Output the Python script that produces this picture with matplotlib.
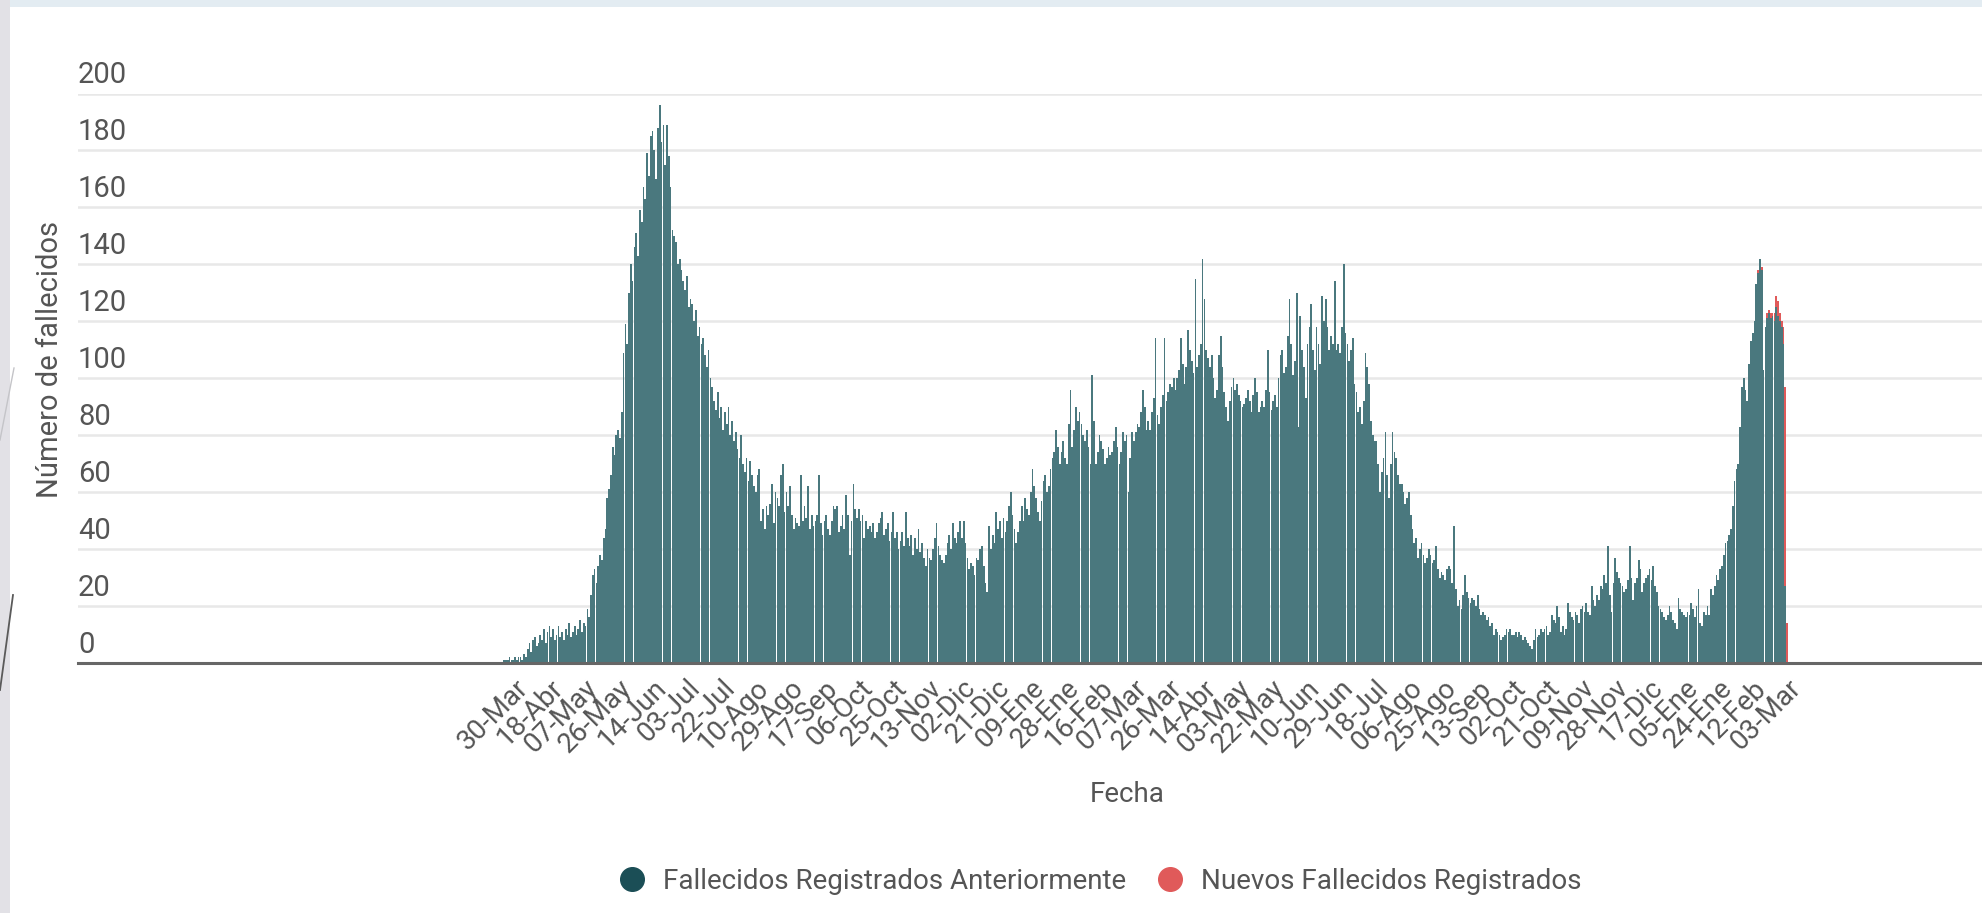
import numpy as np
import pandas as pd
import matplotlib
matplotlib.use("Agg")
import matplotlib.pyplot as plt
import matplotlib.dates as mdates
from matplotlib.lines import Line2D
from matplotlib.patches import Rectangle

plt.rcParams["font.family"] = ["Roboto", "DejaVu Sans"]

# fallecidos por dia, una fila por semana (lunes 23-Mar-2020 .. 03-Mar-2022)
anteriores = [
    0, 1, 1, 1, 2, 1, 1,
    2, 1, 2, 2, 1, 3, 2,
    5, 7, 4, 8, 9, 6, 7,
    10, 8, 12, 7, 11, 13, 9,
    12, 8, 10, 13, 9, 11, 8,
    12, 10, 14, 9, 11, 13, 10,
    12, 15, 11, 14, 13, 19, 16,
    24, 31, 33, 28, 34, 38, 36,
    44, 47, 58, 61, 66, 76, 73,
    80, 82, 79, 88, 109, 119, 112,
    130, 140, 134, 146, 151, 143, 159,
    155, 167, 163, 179, 171, 185, 187,
    180, 170, 188, 196, 183, 189, 175,
    189, 178, 167, 152, 150, 148, 140,
    142, 138, 134, 131, 136, 125, 128,
    126, 120, 124, 115, 118, 112, 114,
    108, 104, 110, 100, 97, 92, 89,
    95, 86, 90, 82, 88, 84, 90,
    80, 85, 78, 81, 75, 72, 80,
    70, 67, 72, 64, 71, 66, 62,
    60, 66, 68, 50, 54, 47, 55,
    52, 56, 63, 49, 60, 58, 55,
    66, 70, 53, 60, 55, 62, 52,
    47, 51, 49, 48, 66, 50, 55,
    51, 62, 47, 52, 48, 50, 52,
    66, 49, 45, 50, 52, 47, 45,
    50, 55, 54, 55, 46, 48, 52,
    47, 59, 52, 38, 50, 63, 54,
    51, 54, 50, 52, 44, 50, 47,
    48, 46, 49, 44, 46, 49, 51,
    53, 45, 47, 49, 43, 46, 53,
    44, 46, 40, 43, 46, 41, 53,
    44, 41, 45, 38, 44, 40, 47,
    39, 42, 37, 34, 40, 37, 36,
    40, 44, 49, 41, 38, 36, 35,
    38, 42, 45, 40, 49, 44, 42,
    46, 50, 44, 50, 42, 37, 33,
    35, 34, 31, 37, 36, 40, 41,
    34, 28, 25, 48, 40, 45, 42,
    53, 47, 50, 44, 51, 46, 50,
    55, 60, 52, 47, 42, 46, 50,
    55, 50, 58, 54, 52, 60, 68,
    62, 58, 53, 50, 57, 64, 66,
    60, 62, 68, 72, 74, 82, 76,
    70, 74, 78, 72, 70, 84, 96,
    76, 82, 90, 85, 88, 84, 80,
    78, 82, 76, 70, 101, 85, 70,
    74, 80, 78, 75, 70, 72, 76,
    73, 74, 78, 83, 76, 70, 74,
    81, 78, 80, 60, 72, 81, 78,
    81, 84, 83, 88, 96, 90, 82,
    85, 82, 88, 93, 114, 87, 84,
    90, 94, 114, 92, 95, 98, 97,
    100, 96, 100, 103, 114, 105, 98,
    104, 117, 110, 106, 102, 135, 104,
    108, 112, 142, 128, 110, 107, 104,
    108, 100, 93, 96, 108, 115, 104,
    95, 90, 85, 92, 97, 100, 96,
    98, 94, 92, 90, 91, 93, 96,
    92, 88, 94, 100, 95, 88, 90,
    92, 90, 96, 110, 95, 89, 92,
    94, 90, 100, 108, 110, 102, 104,
    115, 128, 112, 101, 106, 130, 83,
    122, 110, 104, 93, 112, 118, 126,
    110, 103, 118, 112, 105, 129, 120,
    128, 118, 110, 115, 112, 134, 110,
    112, 109, 118, 140, 116, 112, 106,
    110, 114, 98, 95, 88, 90, 84,
    92, 109, 104, 98, 85, 80, 78,
    78, 70, 60, 67, 72, 81, 66,
    58, 70, 81, 74, 72, 66, 63,
    63, 60, 56, 58, 60, 52, 47,
    42, 44, 37, 40, 42, 38, 35,
    37, 40, 38, 35, 36, 41, 33,
    30, 32, 31, 29, 33, 34, 33,
    28, 48, 26, 20, 22, 19, 24,
    31, 25, 23, 21, 23, 22, 20,
    24, 19, 17, 18, 17, 15, 16,
    13, 14, 10, 12, 11, 10, 8,
    9, 10, 12, 11, 12, 10, 10,
    11, 9, 11, 10, 8, 9, 8,
    7, 6, 5, 8, 12, 9, 10,
    12, 11, 12, 13, 10, 11, 17,
    15, 14, 20, 16, 11, 13, 10,
    12, 21, 18, 16, 15, 18, 17,
    14, 19, 20, 18, 21, 18, 17,
    27, 22, 20, 24, 22, 27, 26,
    31, 28, 41, 24, 18, 28, 37,
    32, 30, 28, 27, 25, 26, 29,
    41, 30, 22, 28, 30, 36, 33,
    25, 28, 30, 31, 33, 29, 34,
    27, 25, 20, 19, 18, 16, 15,
    17, 20, 18, 15, 14, 12, 23,
    19, 18, 17, 16, 18, 17, 21,
    19, 16, 20, 26, 14, 13, 18,
    17, 20, 17, 26, 24, 27, 31,
    29, 33, 34, 38, 42, 43, 45,
    47, 55, 64, 68, 70, 83, 97,
    100, 96, 92, 105, 113, 116, 120,
    133, 137, 142, 138, 103, 118, 121,
    123, 121, 122, 120, 125, 122, 120,
    118, 112, 27, 0,
]

# nuevos fallecidos registrados, ultimos 19 dias
nuevos_ultimos = [0, 0, 1, 0, 1, 0, 0, 2, 1, 2, 1, 3, 4, 5, 3, 2, 6, 70, 14]

tick_labels = [
    "30-Mar", "18-Abr", "07-May", "26-May", "14-Jun", "03-Jul", "22-Jul",
    "10-Ago", "29-Ago", "17-Sep", "06-Oct", "25-Oct", "13-Nov", "02-Dic",
    "21-Dic", "09-Ene", "28-Ene", "16-Feb", "07-Mar", "26-Mar", "14-Abr",
    "03-May", "22-May", "10-Jun", "29-Jun", "18-Jul", "06-Ago", "25-Ago",
    "13-Sep", "02-Oct", "21-Oct", "09-Nov", "28-Nov", "17-Dic", "05-Ene",
    "24-Ene", "12-Feb", "03-Mar",
]
y_ticks = [0, 20, 40, 60, 80, 100, 120, 140, 160, 180, 200]

TEAL = "#4a787e"
TEAL_DOT = "#1b4e56"
RED = "#e05a5a"
TXT = "#555555"

dates = pd.date_range(end="2022-03-03", periods=len(anteriores), freq="D")
anteriores = np.array(anteriores, dtype=float)
nuevos = np.zeros(len(anteriores))
nuevos[-len(nuevos_ultimos):] = nuevos_ultimos
tick_dates = pd.date_range("2020-03-30", periods=len(tick_labels), freq="19D")

fig = plt.figure(figsize=(19.82, 9.13), dpi=100, facecolor="#e2e1e6")
W, H = 1982, 913

# fondo de la captura
fig.patches.append(Rectangle((10 / W, 0), 1, (H - 7) / H, transform=fig.transFigure,
                             facecolor="white", edgecolor="none", zorder=-10))
fig.patches.append(Rectangle((10 / W, (H - 7) / H), 1, 7 / H, transform=fig.transFigure,
                             facecolor="#e3ecf2", edgecolor="none", zorder=-10))
fig.lines.append(Line2D([0, 13 / W], [1 - 690 / H, 1 - 595 / H], transform=fig.transFigure,
                        color="#5a5a5a", lw=1.3, zorder=-5))
fig.lines.append(Line2D([0, 14 / W], [1 - 440 / H, 1 - 368 / H], transform=fig.transFigure,
                        color="#c4c4c8", lw=1.0, zorder=-5))

ax = fig.add_axes([78 / W, (H - 663) / H, 1 - 78 / W, (663 - 93.5) / H])
ax.set_facecolor("none")
ax.set_zorder(5)

ax.bar(dates, anteriores, width=0.95, color=TEAL, linewidth=0, zorder=2)
ax.bar(dates, nuevos, bottom=anteriores, width=0.95, color=RED, linewidth=0, zorder=2)

start = mdates.date2num(pd.Timestamp("2020-03-30"))
ax.set_xlim(start - 241.5, start + 810.7)
ax.set_ylim(0, 200)

for s in ["top", "right", "left"]:
    ax.spines[s].set_visible(False)
ax.spines["bottom"].set_color("#666666")
ax.spines["bottom"].set_linewidth(2.2)
ax.spines["bottom"].set_zorder(3)

ax.set_yticks(y_ticks)
ax.set_yticklabels([])
ax.tick_params(axis="y", length=0)
ax.yaxis.grid(True, color="#e8e8e8", linewidth=1.8)
ax.set_axisbelow(True)
for v in y_ticks:
    ax.text(0, v + 1.5, str(v), transform=ax.get_yaxis_transform(), ha="left",
            va="bottom", fontsize=21, color=TXT)

ax.set_xticks(tick_dates)
ax.set_xticklabels(tick_labels, rotation=45, ha="right", rotation_mode="anchor",
                   fontsize=20, color=TXT)
ax.tick_params(axis="x", length=0, pad=8)

fig.text(50 / W, 1 - 359 / H, "Número de fallecidos", rotation=90, ha="center",
         va="center", fontsize=21, color=TXT)
fig.text(1127 / W, 1 - 794 / H, "Fecha", ha="center", va="center", fontsize=20, color=TXT)

handles = [
    Line2D([], [], marker="o", linestyle="none", markersize=17, color=TEAL_DOT),
    Line2D([], [], marker="o", linestyle="none", markersize=17, color=RED),
]
fig.legend(handles, ["Fallecidos Registrados Anteriormente", "Nuevos Fallecidos Registrados"],
           loc="center", bbox_to_anchor=(1093 / W, 1 - 881 / H), ncol=2, frameon=False,
           fontsize=20, handletextpad=0.1, columnspacing=0.6, labelcolor=TXT)

fig.savefig("out.png", dpi=100, facecolor=fig.get_facecolor())
